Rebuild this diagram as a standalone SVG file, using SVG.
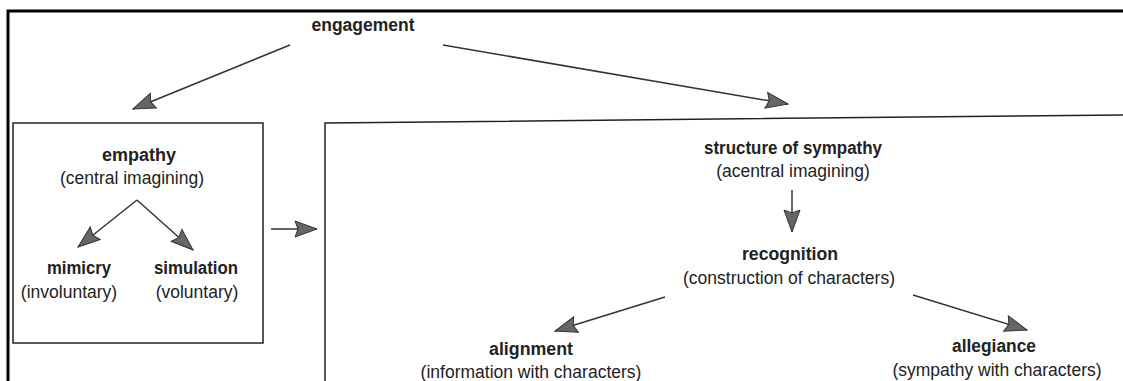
<svg xmlns="http://www.w3.org/2000/svg" width="1123" height="381" viewBox="0 0 1123 381">
<style>
.b{font-family:"Liberation Sans",Arial,sans-serif;font-weight:bold;font-size:18px;fill:#222;text-anchor:middle}
.r{font-family:"Liberation Sans",Arial,sans-serif;font-size:17.5px;fill:#222;text-anchor:middle}
.c{stroke:#333;stroke-width:1.5;fill:none;marker-end:url(#ah)}
.box{stroke:#222;stroke-width:1.5;fill:none}
</style>
<defs>
<marker id="ah" markerUnits="userSpaceOnUse" markerWidth="26" markerHeight="20" refX="23" refY="9" orient="auto">
<path d="M1,1 L23,9 L1,17 L4,9 Z" fill="#666" stroke="#333" stroke-width="1"/>
</marker>
</defs>
<rect width="1123" height="381" fill="#fff"/>
<path d="M8,381 L8,11 L1123,11" stroke="#000" stroke-width="3" fill="none"/>
<g id="box-empathy"><rect class="box" x="13" y="123" width="250" height="220"/></g>
<g id="box-sympathy"><path class="box" d="M325,381 L325,123 L1123,115"/></g>
<g id="engagement"><text class="b" x="363" y="31" textLength="103" lengthAdjust="spacingAndGlyphs">engagement</text></g>
<g id="empathy"><text class="b" x="139" y="161" textLength="74" lengthAdjust="spacingAndGlyphs">empathy</text><text class="r" x="132" y="184">(central imagining)</text></g>
<g id="mimicry"><text class="b" x="79" y="274" textLength="64" lengthAdjust="spacingAndGlyphs">mimicry</text><text class="r" x="69" y="298">(involuntary)</text></g>
<g id="simulation"><text class="b" x="196" y="274" textLength="84" lengthAdjust="spacingAndGlyphs">simulation</text><text class="r" x="197" y="298">(voluntary)</text></g>
<g id="structure"><text class="b" x="793" y="154" textLength="178" lengthAdjust="spacingAndGlyphs">structure of sympathy</text><text class="r" x="793" y="177">(acentral imagining)</text></g>
<g id="recognition"><text class="b" x="790" y="260" textLength="96" lengthAdjust="spacingAndGlyphs">recognition</text><text class="r" x="789" y="284">(construction of characters)</text></g>
<g id="alignment"><text class="b" x="531" y="355" textLength="84" lengthAdjust="spacingAndGlyphs">alignment</text><text class="r" x="531" y="378">(information with characters)</text></g>
<g id="allegiance"><text class="b" x="994" y="352" textLength="84" lengthAdjust="spacingAndGlyphs">allegiance</text><text class="r" x="997" y="376">(sympathy with characters)</text></g>
<g id="connectors">
<line class="c" x1="290" y1="45" x2="133" y2="109"/>
<line class="c" x1="443" y1="45" x2="788" y2="104"/>
<line class="c" x1="137" y1="200" x2="78" y2="247"/>
<line class="c" x1="137" y1="200" x2="193" y2="250"/>
<line class="c" x1="271" y1="229" x2="317" y2="229"/>
<line class="c" x1="792" y1="190" x2="792" y2="232"/>
<line class="c" x1="665" y1="297" x2="555" y2="331"/>
<line class="c" x1="913" y1="295" x2="1027" y2="330"/>
</g>
</svg>
